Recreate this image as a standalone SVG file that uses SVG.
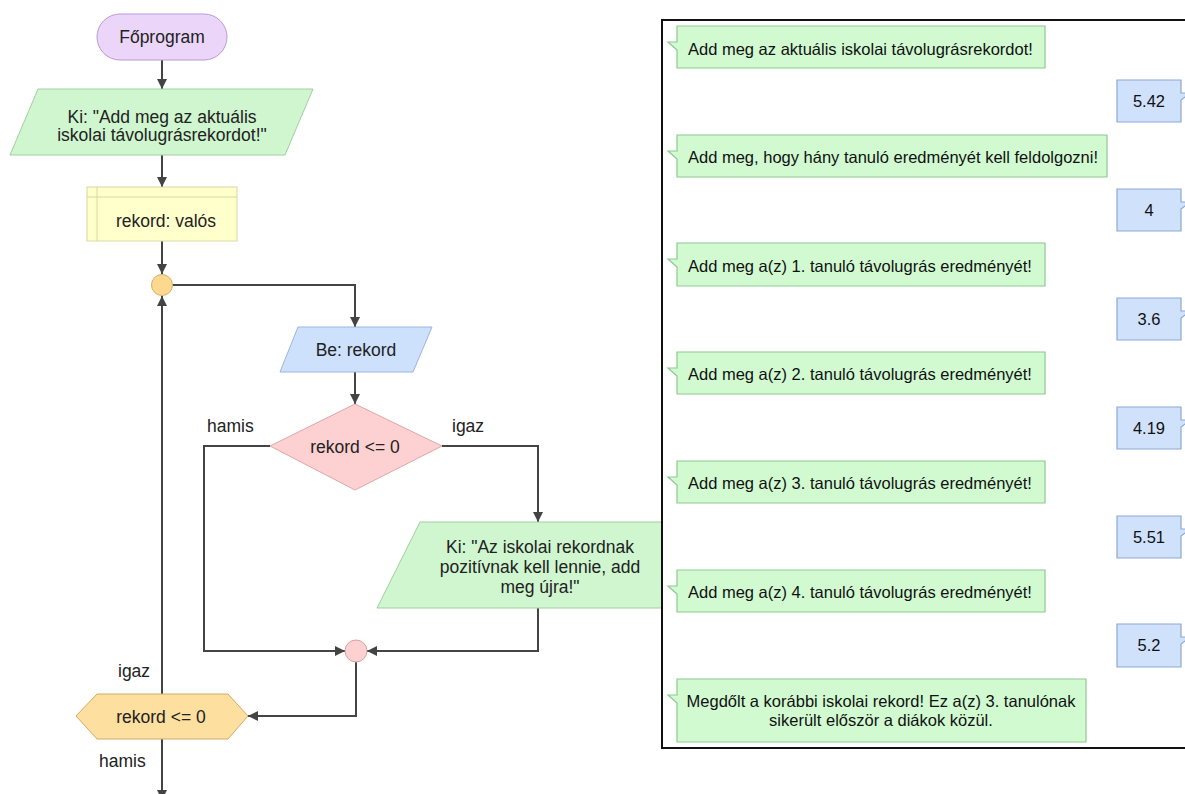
<svg xmlns="http://www.w3.org/2000/svg" width="1185" height="794" viewBox="0 0 1185 794">
  <style>
    .t { font-family: "Liberation Sans", Arial, sans-serif; font-size: 17.5px; fill: #222; }
    .c { text-anchor: middle; }
    .b { font-family: "Liberation Sans", Arial, sans-serif; font-size: 16.5px; fill: #111; }
    .conn { fill: none; stroke: #444; stroke-width: 2; }
    .start { fill: #ebd6fa; stroke: #b79ad6; stroke-width: 1; }
    .out { fill: #cff6cf; stroke: #9fd09f; stroke-width: 1; }
    .decl { fill: #ffffcc; stroke: #d8d8a2; stroke-width: 1; }
    .in { fill: #cde0fc; stroke: #9db4de; stroke-width: 1; }
    .cond { fill: #fdd1d1; stroke: #e0a6a6; stroke-width: 1; }
    .join1 { fill: #fdd98f; stroke: #d5ae6a; stroke-width: 1; }
    .join2 { fill: #fdd1d1; stroke: #d9a0a0; stroke-width: 1; }
    .loop { fill: #fddf9f; stroke: #d4aa62; stroke-width: 1; }
    .panel { fill: #ffffff; stroke: #111; stroke-width: 2; }
    .gb { fill: #d1fad1; stroke: #8fc88f; stroke-width: 1.2; }
    .bb { fill: #d0e1fc; stroke: #8ea8d2; stroke-width: 1.2; }
  </style>
  <defs>
    <marker id="arrow" markerUnits="userSpaceOnUse" markerWidth="10" markerHeight="10" refX="10" refY="5" orient="auto">
      <path d="M0,0 L10,5 L0,10 Z" fill="#444"/>
    </marker>
  </defs>

  <rect width="1185" height="794" fill="#ffffff"/>

  <!-- connectors -->
  <g id="connectors">
    <path class="conn" d="M162,60 V89" marker-end="url(#arrow)"/>
    <path class="conn" d="M162,155 V187" marker-end="url(#arrow)"/>
    <path class="conn" d="M162,241 V274" marker-end="url(#arrow)"/>
    <path class="conn" d="M172.5,285 H355 V327" marker-end="url(#arrow)"/>
    <path class="conn" d="M355,372 V404" marker-end="url(#arrow)"/>
    <path class="conn" d="M270,446 H204 V651 H345" marker-end="url(#arrow)"/>
    <path class="conn" d="M442,446 H538 V522" marker-end="url(#arrow)"/>
    <path class="conn" d="M538,608 V651 H367" marker-end="url(#arrow)"/>
    <path class="conn" d="M356,662 V716 H248" marker-end="url(#arrow)"/>
    <path class="conn" d="M162,694 V296" marker-end="url(#arrow)"/>
    <path class="conn" d="M162,739 V800" marker-end="url(#arrow)"/>
  </g>

  <!-- flowchart nodes -->
  <g id="start">
    <rect class="start" x="97" y="14" width="130" height="46" rx="23"/>
    <text class="t c" x="162" y="43">Főprogram</text>
  </g>

  <g id="out-prompt">
    <polygon class="out" points="38,89 313,89 285,155 10,155"/>
    <text class="t c" x="162" y="123">Ki: "Add meg az aktuális</text>
    <text class="t c" x="162" y="141">iskolai távolugrásrekordot!"</text>
  </g>

  <g id="declare">
    <rect class="decl" x="87" y="187" width="150" height="54"/>
    <line class="decl" x1="97" y1="187" x2="97" y2="241"/>
    <line class="decl" x1="87" y1="197" x2="237" y2="197"/>
    <text class="t c" x="166" y="227">rekord: valós</text>
  </g>

  <g id="loop-join">
    <circle class="join1" cx="162" cy="285" r="10.5"/>
  </g>

  <g id="input">
    <polygon class="in" points="298,327 432,327 413,372 280,372"/>
    <text class="t c" x="356" y="356">Be: rekord</text>
  </g>

  <g id="decision">
    <polygon class="cond" points="355,404 442,446 355,490 270,446"/>
    <text class="t c" x="355" y="453">rekord &lt;= 0</text>
    <text class="t" x="207" y="432">hamis</text>
    <text class="t" x="452" y="432">igaz</text>
  </g>

  <g id="out-error">
    <polygon class="out" points="420,522 705,522 662,608 377,608"/>
    <text class="t c" x="540" y="553">Ki: "Az iskolai rekordnak</text>
    <text class="t c" x="540" y="573">pozitívnak kell lennie, add</text>
    <text class="t c" x="540" y="593">meg újra!"</text>
  </g>

  <g id="branch-join">
    <circle class="join2" cx="356" cy="651" r="11"/>
  </g>

  <g id="loop-test">
    <polygon class="loop" points="76,716 97,694 228,694 248,716 228,739 97,739"/>
    <text class="t c" x="161" y="723">rekord &lt;= 0</text>
    <text class="t" x="118" y="677">igaz</text>
    <text class="t" x="99" y="767">hamis</text>
  </g>

  <!-- console panel -->
  <g id="console">
    <rect class="panel" x="662" y="20" width="540" height="728"/>

    <g id="msg1">
      <path class="gb" d="M677,26 H1045 V68 H677 V50 L668,42 H677 Z"/>
      <text class="b" x="688" y="55">Add meg az aktuális iskolai távolugrásrekordot!</text>
    </g>
    <g id="ans1">
      <path class="bb" d="M1117,80 H1181 V93 H1190 L1181,100 V122 H1117 Z"/>
      <text class="b c" x="1149" y="107">5.42</text>
    </g>
    <g id="msg2">
      <path class="gb" d="M677,135 H1107 V177 H677 V159 L668,151 H677 Z"/>
      <text class="b" x="688" y="163">Add meg, hogy hány tanuló eredményét kell feldolgozni!</text>
    </g>
    <g id="ans2">
      <path class="bb" d="M1117,189 H1181 V202 H1190 L1181,209 V231 H1117 Z"/>
      <text class="b c" x="1149" y="216">4</text>
    </g>
    <g id="msg3">
      <path class="gb" d="M677,243 H1045 V286 H677 V267 L668,259 H677 Z"/>
      <text class="b" x="688" y="272">Add meg a(z) 1. tanuló távolugrás eredményét!</text>
    </g>
    <g id="ans3">
      <path class="bb" d="M1117,298 H1181 V311 H1190 L1181,318 V340 H1117 Z"/>
      <text class="b c" x="1149" y="325">3.6</text>
    </g>
    <g id="msg4">
      <path class="gb" d="M677,352 H1045 V394 H677 V376 L668,368 H677 Z"/>
      <text class="b" x="688" y="380">Add meg a(z) 2. tanuló távolugrás eredményét!</text>
    </g>
    <g id="ans4">
      <path class="bb" d="M1117,407 H1181 V420 H1190 L1181,427 V449 H1117 Z"/>
      <text class="b c" x="1149" y="434">4.19</text>
    </g>
    <g id="msg5">
      <path class="gb" d="M677,461 H1045 V503 H677 V485 L668,477 H677 Z"/>
      <text class="b" x="688" y="489">Add meg a(z) 3. tanuló távolugrás eredményét!</text>
    </g>
    <g id="ans5">
      <path class="bb" d="M1117,516 H1181 V529 H1190 L1181,536 V558 H1117 Z"/>
      <text class="b c" x="1149" y="543">5.51</text>
    </g>
    <g id="msg6">
      <path class="gb" d="M677,570 H1045 V612 H677 V594 L668,586 H677 Z"/>
      <text class="b" x="688" y="598">Add meg a(z) 4. tanuló távolugrás eredményét!</text>
    </g>
    <g id="ans6">
      <path class="bb" d="M1117,624 H1181 V637 H1190 L1181,644 V667 H1117 Z"/>
      <text class="b c" x="1149" y="651">5.2</text>
    </g>
    <g id="msg7">
      <path class="gb" d="M677,679 H1086 V742 H677 V703 L668,695 H677 Z"/>
      <text class="b c" x="881" y="707">Megdőlt a korábbi iskolai rekord! Ez a(z) 3. tanulónak</text>
      <text class="b c" x="881" y="726">sikerült először a diákok közül.</text>
    </g>
  </g>
</svg>
